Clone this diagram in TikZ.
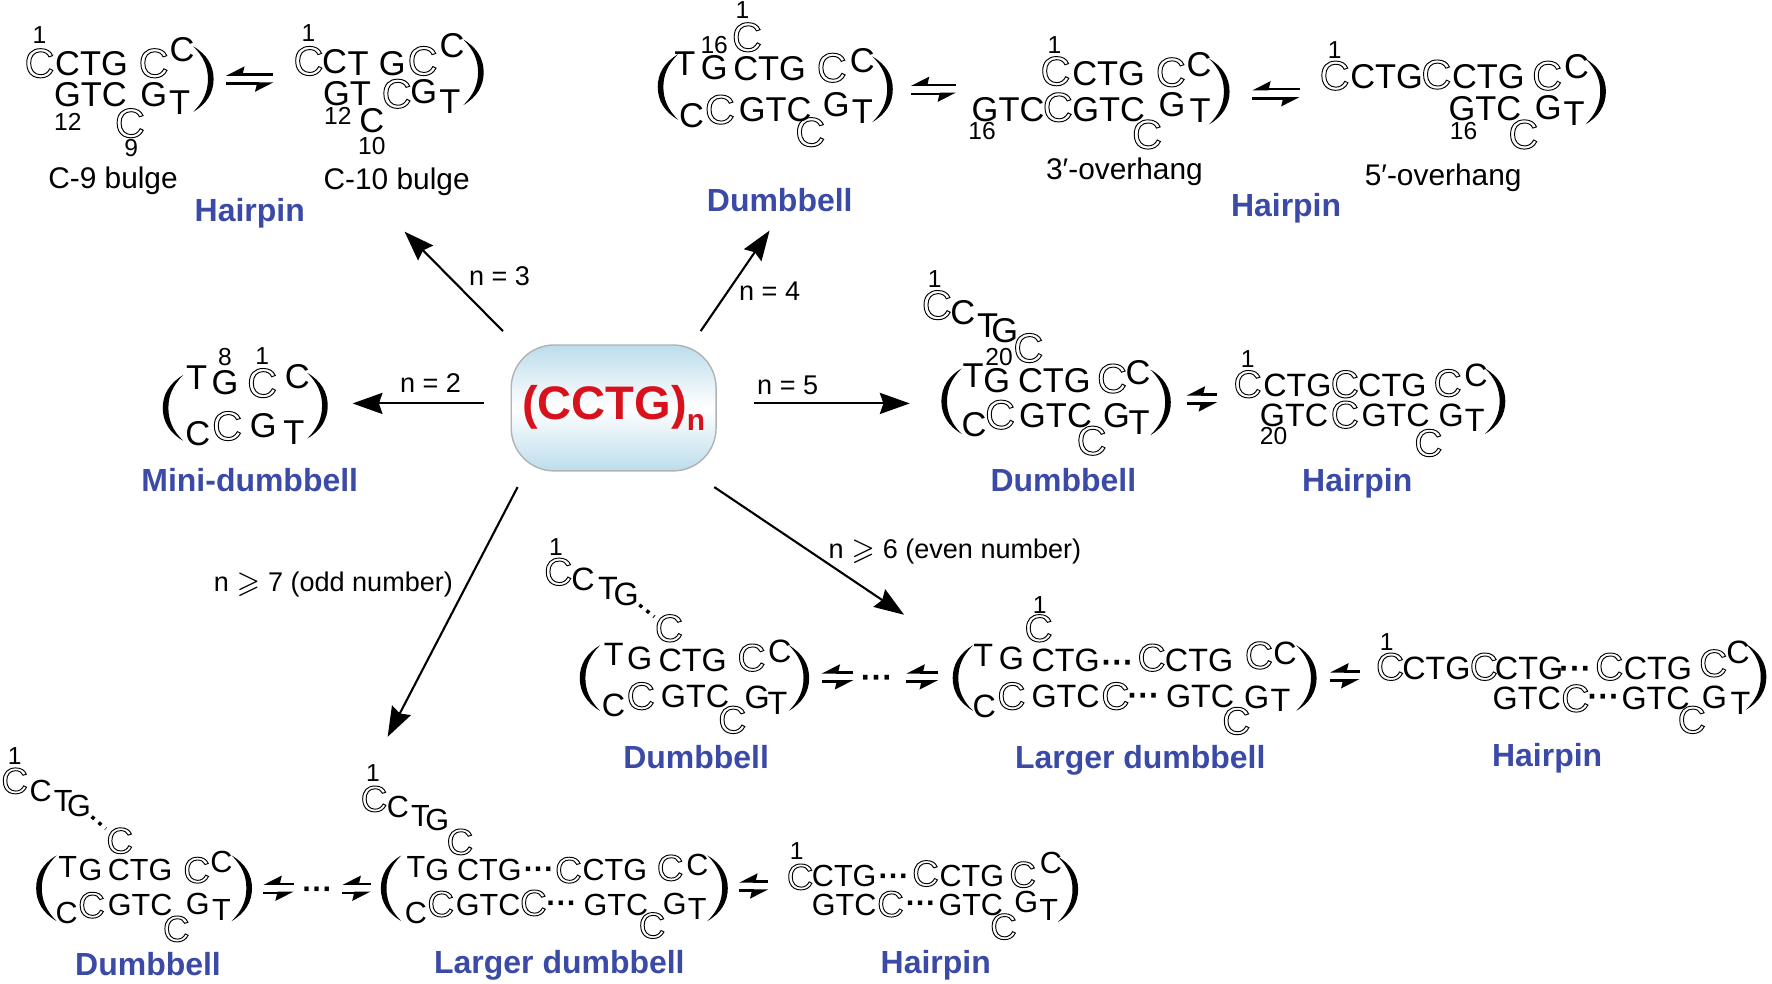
\documentclass[tikz,border=0pt]{standalone}
\usepackage{amssymb}
\usepackage{fontspec}
\setmainfont{Liberation Sans}
\usetikzlibrary{arrows.meta, positioning}

\definecolor{titleblue}{HTML}{3A4AA6}
\definecolor{hubred}{HTML}{D8121C}
\definecolor{hubblue}{HTML}{BCDDEC}

% outlined letter of the sequence
\newcommand{\oC}{{\fontsize{\oCsize}{\oCsize}\selectfont\special{pdf:code 1 Tr 0.27 w}C\special{pdf:code 0 Tr}}}
\newcommand{\dotrow}{{\bfseries ···}}

\tikzset{
  seq/.style={font=\fontsize{#1}{#1}\selectfont, inner sep=0pt},
  num/.style={font=\fontsize{7}{7}\selectfont, inner sep=0pt},
  lbl/.style={font=\fontsize{7.7}{7.7}\selectfont, inner sep=0pt},
  note/.style={font=\fontsize{8.5}{8.5}\selectfont, inner sep=0pt},
  title/.style={font=\fontsize{9.1}{9.1}\selectfont\bfseries, text=titleblue, inner sep=0pt},
  arrow/.style={-{Stealth[length=8.5pt,width=6pt,inset=1pt]}, line width=0.6pt},
  harp/.style={-{Stealth[harpoon,swap,length=4.5pt,width=4.5pt,inset=0.5pt]}, line width=0.7pt},
  dotline/.style={line width=1pt, dash pattern=on 1pt off 1.6pt},
  rpar/.pic={\fill (0,-29) .. controls (12,-22) and (18,-12) .. (18,0) .. controls (18,12) and (12,22) .. (0,29) .. controls (9,20) and (13,11) .. (13,0) .. controls (13,-11) and (9,-20) .. (0,-29);},
}

\newcommand{\letters}[3][9.8]{
  \pgfmathsetmacro{\oCsize}{#1*1.2}
  \foreach \px/\py/\txt [count=\i] in {#3} \node[seq=#1] (#2\i) at (\px,\py) {\txt};
}
\newcommand{\nums}[2]{\foreach \px/\py/\txt [count=\i] in {#2} \node[num] (#1n\i) at (\px,\py) {\txt};}
\newcommand{\equil}[4]{
  \coordinate (#1a) at (#3,#4-4);
  \coordinate (#1b) at (#2,#4-4);
  \coordinate (#1c) at (#2,#4+4);
  \coordinate (#1d) at (#3,#4+4);
  \draw[harp] (#1a) -- (#1b);
  \draw[harp] (#1c) -- (#1d);
}

\begin{document}
\begin{tikzpicture}[x=0.0113cm, y=-0.0113cm]
  \useasboundingbox (0,0) rectangle (1568,870);

  % Centre
  \node[draw=gray!60, rounded corners=0.43cm, minimum width=2.05cm, minimum height=1.26cm, inner sep=0pt,
        top color=hubblue, bottom color=hubblue, middle color=white, text=hubred,
        font=\fontsize{13.4}{13.4}\selectfont\bfseries] (hub) at (543,361) {(CCTG)\raisebox{-3pt}{\fontsize{8.5}{8.5}\selectfont n}};

  % Arrow ends
  \coordinate (s3) at (445,293);  \coordinate (e3) at (358,205);
  \coordinate (s4) at (620,293);  \coordinate (e4) at (681,204);
  \coordinate (s2) at (428,357);  \coordinate (e2) at (312,357);
  \coordinate (s5) at (667,357);  \coordinate (e5) at (805,357);
  \coordinate (s6) at (632,431);  \coordinate (e6) at (800,544);
  \coordinate (s7) at (458,431);  \coordinate (e7) at (343,652);
  \draw[arrow] (s3) -- (e3);
  \draw[arrow] (s4) -- (e4);
  \draw[arrow] (s2) -- (e2);
  \draw[arrow] (s5) -- (e5);
  \draw[arrow] (s6) -- (e6);
  \draw[arrow] (s7) -- (e7);
  \node[lbl] (l3) at (442,244) {n = 3};
  \node[lbl] (l4) at (681,258) {n = 4};
  \node[lbl] (l2) at (381,339) {n = 2};
  \node[lbl] (l5) at (697,341) {n = 5};
  \node[lbl] (l6) at (845,488) {n $\geqslant$ 6 (even number)};
  \node[lbl] (l7) at (295,517) {n $\geqslant$ 7 (odd number)};

  % n = 3, C-9 bulge
  \letters{a}{35/56/\oC, 81/56/CTG, 136/56/\oC, 161/44/C, 80/84/GTC, 136/84/G, 159/91/T, 115/109/\oC}
  \nums{a}{35/31/1, 60/108/12, 116/131/9}
  \pic at (171,70) {rpar};
  \node[note] (labela) at (100,160) {C-9 bulge};
  \equil{eqa}{200}{242}{70}

  % n = 3, C-10 bulge
  \letters{b}{273/54/\oC, 296/55/C, 317/56/T, 347/56/G, 374/54/\oC, 400/40/C, 307/83/GT, 351/83/\oC, 375/81/G, 398/90/T, 329/107/C}
  \nums{b}{273/29/1, 299/103/12, 329/129/10}
  \pic at (410,64) {rpar};
  \node[note] (labelb) at (351,161) {C-10 bulge};
  \node[title] (ta) at (221,189) {Hairpin};

  % n = 4, dumbbell
  \letters{c}{661/33/\oC, 606/56/T, 632/60/G, 681/61/CTG, 736/60/\oC, 763/54/C, 612/102/C, 637/97/\oC, 686/97/GTC, 740/93/G, 763/99/T, 717/117/\oC}
  \nums{c}{657/9/1, 632/40/16}
  \pic[xscale=-1] at (600,77) {rpar};
  \pic at (772,79) {rpar};
  \node[title] (tc) at (690,177) {Dumbbell};
  \equil{eqc}{806}{846}{79}

  % n = 4, 3'-overhang
  \letters{d}{934/63/\oC, 981/65/CTG, 1036/64/\oC, 1061/57/C, 892/97/GTC, 936/95/\oC, 981/97/GTC, 1037/93/G, 1062/98/T, 1015/119/\oC}
  \nums{d}{933/40/1, 869/116/16}
  \pic at (1070,81) {rpar};
  \node[note] (labeld) at (995,152) {3′-overhang};
  \equil{eqd}{1108}{1150}{83}

  % n = 4, 5'-overhang
  \letters{e}{1181/67/\oC, 1227/68/CTG, 1271/66/\oC, 1317/68/CTG, 1369/67/\oC, 1395/59/C, 1314/96/GTC, 1370/95/G, 1393/101/T, 1348/119/\oC}
  \nums{e}{1181/44/1, 1295/116/16}
  \pic at (1403,81) {rpar};
  \node[note] (labele) at (1277,157) {5′-overhang};
  \node[title] (te) at (1138,184) {Hairpin};

  % n = 2, mini-dumbbell
  \letters{m}{174/334/T, 199/339/G, 232/339/\oC, 263/333/C, 175/384/C, 201/377/\oC, 233/377/G, 260/383/T}
  \nums{m}{199/316/8, 232/315/1}
  \pic[xscale=-1] at (162,361) {rpar};
  \pic at (272,359) {rpar};
  \node[title] (tm) at (221,425) {Mini-dumbbell};

  % n = 5, dumbbell
  \letters{f}{829/270/\oC, 852/277/C, 874/288/T, 889/293/G, 910/308/\oC, 861/332/T, 882/337/G, 933/337/CTG, 984/335/\oC, 1007/330/C, 862/376/C, 885/367/\oC, 934/368/GTC, 988/368/G, 1008/374/T, 966/390/\oC}
  \nums{f}{827/247/1, 884/316/20}
  \pic[xscale=-1] at (851,355) {rpar};
  \pic at (1018,356) {rpar};
  \node[title] (tf) at (941,425) {Dumbbell};
  \equil{eqf}{1050}{1077}{353}

  % n = 5, hairpin
  \letters[9.2]{g}{1104/340/\oC, 1148/341/CTG, 1190/340/\oC, 1232/341/CTG, 1281/339/\oC, 1306/332/C, 1145/368/GTC, 1190/367/\oC, 1235/368/GTC, 1284/368/G, 1305/372/T, 1264/392/\oC}
  \nums{g}{1104/318/1, 1127/386/20}
  \pic at (1314,355) {rpar};
  \node[title] (tg) at (1201,428) {Hairpin};

  % n >= 6, dumbbell
  \letters[9.2]{h}{494/506/\oC, 516/513/C, 538/521/T, 554/526/G, 592/556/\oC, 543/579/T, 566/583/G, 613/584/CTG, 665/582/\oC, 690/576/C, 543/624/C, 567/616/\oC, 615/616/GTC, 670/617/G, 688/622/T, 648/637/\oC}
  \nums{h}{492/484/1}
  \draw[dotline] (h4) -- (h5);
  \pic[xscale=-1] at (531,600) {rpar};
  \pic at (698,600) {rpar};
  \node[title] (th) at (616,670) {Dumbbell};
  \equil{eqh}{727}{755}{599}
  \node[seq=9.2] (dh) at (776,603) {\dotrow};
  \equil{eqi}{802}{830}{599}

  % n >= 6, larger dumbbell
  \letters[9.2]{i}{919/556/\oC, 870/580/T, 895/583/G, 943/584/CTG, 989/590/\dotrow, 1019/582/\oC, 1061/584/CTG, 1114/580/\oC, 1137/578/C, 871/625/C, 895/616/\oC, 943/616/GTC, 987/616/\oC, 1012/619/\dotrow, 1062/616/GTC, 1112/617/G, 1133/620/T, 1094/638/\oC}
  \nums{i}{920/535/1}
  \pic[xscale=-1] at (861,600) {rpar};
  \pic at (1147,600) {rpar};
  \node[title] (ti) at (1009,673) {Larger dumbbell};
  \equil{eqj}{1177}{1203}{598}

  % n >= 6, hairpin
  \letters[9.2]{j}{1230/590/\oC, 1271/591/CTG, 1313/590/\oC, 1353/591/CTG, 1394/595/\dotrow, 1424/590/\oC, 1467/591/CTG, 1516/587/\oC, 1538/577/C, 1351/618/GTC, 1394/618/\oC, 1419/620/\dotrow, 1465/618/GTC, 1517/617/G, 1540/622/T, 1497/637/\oC}
  \nums{j}{1227/568/1}
  \pic at (1545,599) {rpar};
  \node[title] (tj) at (1369,671) {Hairpin};

  % n >= 7, dumbbell
  \letters[8.7]{k}{13/691/\oC, 36/700/C, 56/709/T, 70/713/G, 106/744/\oC, 60/767/T, 80/770/G, 124/770/CTG, 174/770/\oC, 196/763/C, 59/808/C, 81/801/\oC, 124/801/GTC, 175/800/G, 196/805/T, 156/822/\oC}
  \nums{k}{13/669/1}
  \draw[dotline] (k4) -- (k5);
  \pic[xscale=-1] at (50,786) {rpar};
  \pic at (205,786) {rpar};
  \node[title] (tk) at (131,853) {Dumbbell};
  \equil{eqk}{233}{260}{786}
  \node[seq=8.7] (dk) at (281,790) {\dotrow};
  \equil{eql}{303}{328}{786}

  % n >= 7, larger dumbbell
  \letters[8.7]{p}{331/707/\oC, 352/714/C, 372/722/T, 387/726/G, 407/745/\oC, 368/767/T, 387/770/G, 433/770/CTG, 477/773/\dotrow, 503/770/\oC, 544/770/CTG, 593/768/\oC, 617/765/C, 368/808/C, 390/800/\oC, 432/801/GTC, 472/799/\oC, 497/803/\dotrow, 545/801/GTC, 597/800/G, 617/804/T, 577/819/\oC}
  \nums{p}{330/684/1}
  \pic[xscale=-1] at (355,786) {rpar};
  \pic at (626,786) {rpar};
  \node[title] (tp) at (495,854) {Larger dumbbell};
  \equil{eqp}{654}{680}{784}

  % n >= 7, hairpin
  \letters[8.7]{q}{708/776/\oC, 747/775/CTG, 791/779/\dotrow, 819/773/\oC, 860/775/CTG, 905/774/\oC, 930/764/C, 747/801/GTC, 788/800/\oC, 815/803/\dotrow, 859/801/GTC, 908/798/G, 928/805/T, 888/820/\oC}
  \nums{q}{705/753/1}
  \pic at (936,787) {rpar};
  \node[title] (tq) at (828,854) {Hairpin};
\end{tikzpicture}
\end{document}
